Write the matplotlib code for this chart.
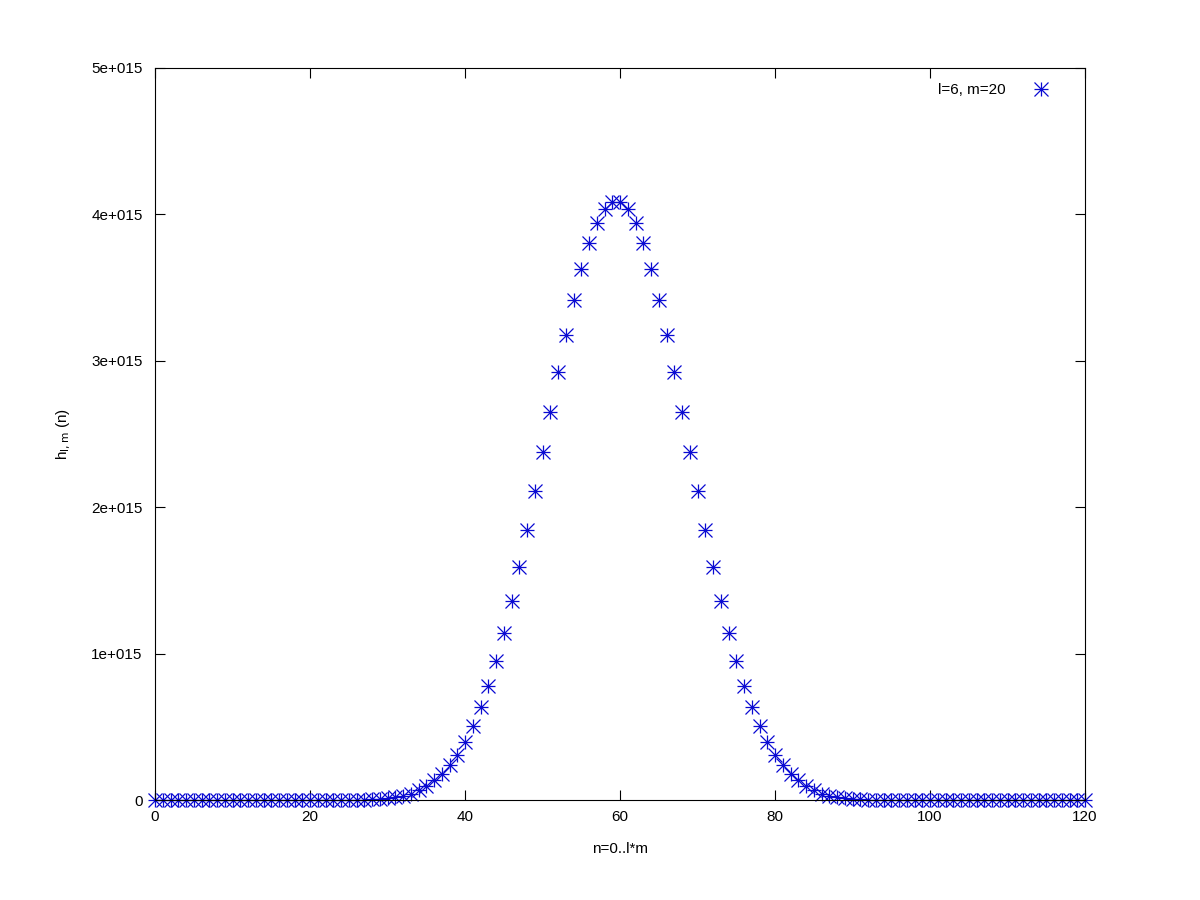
import matplotlib
matplotlib.use('Agg')
import matplotlib.pyplot as plt
import numpy as np

# h_{l,m}(n) for l=6, m=20 (units of 1e15)
n_values = list(range(0, 121))
h_values = [
    0, 0, 0, 0, 0, 0, 0, 0, 0, 0,                      # 0-9
    0, 0, 0, 0, 0, 0, 0, 0, 0, 0,                      # 10-19
    0, 0, 0, 0, 0.0002, 0.0006, 0.0012, 0.0022, 0.004, 0.007,   # 20-29
    0.011, 0.018, 0.028, 0.043, 0.066, 0.096, 0.135, 0.178, 0.237, 0.307,  # 30-39
    0.394, 0.503, 0.633, 0.777, 0.947, 1.144, 1.357, 1.589, 1.844, 2.111,  # 40-49
    2.375, 2.648, 2.921, 3.174, 3.413, 3.625, 3.803, 3.939, 4.035, 4.083,  # 50-59
    4.083, 4.035, 3.939, 3.803, 3.625, 3.413, 3.174, 2.921, 2.648, 2.375,  # 60-69
    2.111, 1.844, 1.589, 1.357, 1.144, 0.947, 0.777, 0.633, 0.503, 0.394,  # 70-79
    0.307, 0.237, 0.178, 0.135, 0.096, 0.066, 0.043, 0.028, 0.018, 0.011,  # 80-89
    0.007, 0.004, 0.0022, 0.0012, 0.0006, 0.0002, 0, 0, 0, 0,  # 90-99
    0, 0, 0, 0, 0, 0, 0, 0, 0, 0,                      # 100-109
    0, 0, 0, 0, 0, 0, 0, 0, 0, 0,                      # 110-119
    0,                                                 # 120
]
x_ticks = [0, 20, 40, 60, 80, 100, 120]
y_ticks = [0, 1e15, 2e15, 3e15, 4e15, 5e15]
y_tick_labels = ['0', '1e+015', '2e+015', '3e+015', '4e+015', '5e+015']

plt.rcParams['font.family'] = ['Liberation Sans', 'DejaVu Sans']
plt.rcParams['font.size'] = 11

color = '#0a0ad2'
h = np.array(h_values) * 1e15

fig = plt.figure(figsize=(12, 9), dpi=100)
ax = fig.add_axes([155 / 1200, 1 - 800 / 900, 930 / 1200, 732 / 900])

# gnuplot style star = plus + cross + small dot in the middle
p1, = ax.plot(n_values, h, linestyle='none', marker='+', markersize=10,
              markeredgewidth=0.9, color=color, clip_on=False)
p2, = ax.plot(n_values, h, linestyle='none', marker='x', markersize=9.5,
              markeredgewidth=0.9, color=color, clip_on=False)
ax.plot(n_values, h, linestyle='none', marker='o', markersize=2.5,
        markeredgewidth=0, color=color, clip_on=False)

ax.set_xlim(0, 120)
ax.set_ylim(0, 5e15)
ax.set_xticks(x_ticks)
ax.set_yticks(y_ticks)
ax.set_yticklabels(y_tick_labels)
ax.tick_params(direction='in', length=7.5, width=0.8, top=True, right=True)
ax.tick_params(axis='y', pad=9)
ax.tick_params(axis='x', pad=7)
for s in ax.spines.values():
    s.set_linewidth(0.8)

ax.set_xlabel('n=0..l*m', labelpad=13)
ax.set_ylabel(r'h$_{\mathrm{l,m}}$ (n)', labelpad=13)

ax.legend([(p1, p2)], ['l=6, m=20'], loc='upper right', frameon=False,
          markerfirst=False, handlelength=3, borderaxespad=0.6,
          bbox_to_anchor=(0.994, 1.0))

fig.savefig('out.png', dpi=100)
